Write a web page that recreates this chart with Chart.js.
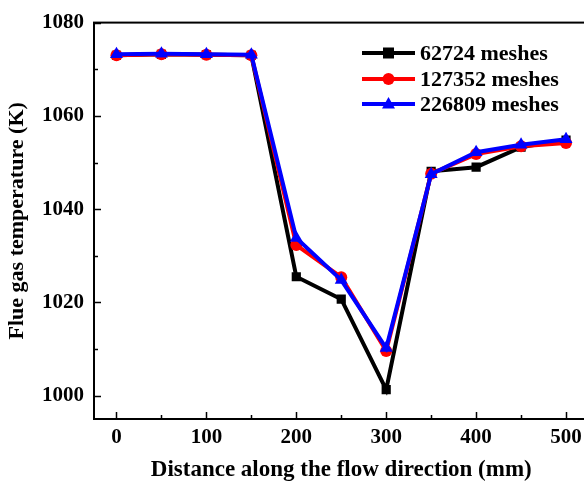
<!DOCTYPE html>
<html>
<head>
<meta charset="utf-8">
<script src="https://cdn.jsdelivr.net/npm/chart.js@4.4.1/dist/chart.umd.min.js"></script>
<style>
  html, body { margin: 0; padding: 0; background: #fff; overflow: hidden; }
  #wrap { width: 600px; height: 488px; }
</style>
</head>
<body>
<div id="wrap"><canvas id="chart" width="600" height="488"></canvas></div>
<script>
const distances = [0, 50, 100, 150, 200, 250, 300, 350, 400, 450, 500]
const mesh62724 = [1073.0, 1073.2, 1073.1, 1073.0, 1025.5, 1020.7, 1001.3, 1048.1, 1049.0, 1053.3, 1054.8]
const mesh127352 = [1073.0, 1073.2, 1073.1, 1073.0, 1032.3, 1025.4, 1009.6, 1047.6, 1051.8, 1053.5, 1054.2]
const mesh226809 = [1073.2, 1073.3, 1073.2, 1073.1, 1033.8, 1024.8, 1010.2, 1047.5, 1052.2, 1053.8, 1055.0]
const seriesLabels = ['62724 meshes', '127352 meshes', '226809 meshes']
const yTicks = [1000, 1020, 1040, 1060, 1080]
const xTicks = [0, 100, 200, 300, 400, 500]

const fuente = "'Liberation Serif', 'Times New Roman', serif"

const armarPuntos = (valores) => valores.map((v, i) => ({ x: distances[i], y: v }))

const estilos = [
    { color: '#000000', punto: 'rect', radio: 6.5, orden: 3 },
    { color: '#ff0000', punto: 'circle', radio: 6, orden: 2 },
    { color: '#0000ff', punto: 'triangle', radio: 7.5, orden: 1 }
]

const datasets = [mesh62724, mesh127352, mesh226809].map((valores, i) => ({
    label: seriesLabels[i],
    data: armarPuntos(valores),
    order: estilos[i].orden,
    borderColor: estilos[i].color,
    backgroundColor: estilos[i].color,
    borderWidth: 4,
    pointStyle: estilos[i].punto,
    pointRadius: estilos[i].radio,
    pointBorderWidth: 0,
    tension: 0
}))

// ticks hacia adentro, mayores y menores
const ticksAdentro = {
    id: 'ticksAdentro',
    afterDraw(chart) {
        const ctx = chart.ctx
        const area = chart.chartArea
        const x = chart.scales.x
        const y = chart.scales.y
        ctx.save()
        ctx.strokeStyle = '#000'
        ctx.lineWidth = 1.5
        ctx.beginPath()
        for (let v = 0; v <= 500; v += 50) {
            const px = Math.round(x.getPixelForValue(v)) + 0.5
            const largo = v % 100 === 0 ? 7 : 4
            ctx.moveTo(px, area.bottom)
            ctx.lineTo(px, area.bottom - largo)
        }
        for (let v = 1000; v <= 1080; v += 10) {
            const py = Math.round(y.getPixelForValue(v)) + 0.5
            const largo = v % 20 === 0 ? 7 : 4
            ctx.moveTo(area.left, py)
            ctx.lineTo(area.left + largo, py)
        }
        ctx.stroke()
        ctx.lineWidth = 2
        ctx.strokeRect(area.left, area.top, area.right - area.left, area.bottom - area.top)
        ctx.restore()
    }
}

// leyenda con linea y marcador
const leyenda = {
    id: 'leyenda',
    afterDraw(chart) {
        const ctx = chart.ctx
        const filas = [53, 79, 104]
        ctx.save()
        chart.data.datasets.forEach((ds, i) => {
            const yy = filas[i]
            ctx.strokeStyle = ds.borderColor
            ctx.lineWidth = 4
            ctx.beginPath()
            ctx.moveTo(362, yy)
            ctx.lineTo(415, yy)
            ctx.stroke()
            ctx.fillStyle = ds.borderColor
            const cx = 388.5
            if (ds.pointStyle === 'rect') {
                ctx.fillRect(cx - 5.5, yy - 5.5, 11, 11)
            } else if (ds.pointStyle === 'circle') {
                ctx.beginPath()
                ctx.arc(cx, yy, 6, 0, Math.PI * 2)
                ctx.fill()
            } else {
                ctx.beginPath()
                ctx.moveTo(cx, yy - 7)
                ctx.lineTo(cx + 6.5, yy + 4.5)
                ctx.lineTo(cx - 6.5, yy + 4.5)
                ctx.closePath()
                ctx.fill()
            }
            ctx.fillStyle = '#000'
            ctx.font = 'bold 22px ' + fuente
            ctx.textBaseline = 'middle'
            ctx.fillText(ds.label, 420, yy + 1)
        })
        ctx.restore()
    }
}

new Chart(document.getElementById('chart'), {
    type: 'line',
    data: { datasets: datasets },
    plugins: [ticksAdentro, leyenda],
    options: {
        responsive: false,
        animation: false,
        layout: { padding: { left: 0, top: 21, right: 11.5, bottom: 0 } },
        plugins: { legend: { display: false }, tooltip: { enabled: false } },
        scales: {
            x: {
                type: 'linear',
                min: -25,
                max: 525,
                afterFit: (s) => { s.height = 69 },
                afterBuildTicks: (s) => { s.ticks = xTicks.map(v => ({ value: v })) },
                grid: { display: false, drawTicks: false },
                border: { display: false },
                ticks: {
                    color: '#000', padding: 6,
                    callback: (v) => String(v),
                    font: { family: fuente, size: 21, weight: 'bold' }
                },
                title: {
                    display: true,
                    text: 'Distance along the flow direction (mm)',
                    color: '#000',
                    padding: { top: 7 },
                    font: { family: fuente, size: 23, weight: 'bold' }
                }
            },
            y: {
                min: 995,
                max: 1080,
                afterFit: (s) => { s.width = 94 },
                afterBuildTicks: (s) => { s.ticks = yTicks.map(v => ({ value: v })) },
                grid: { display: false, drawTicks: false },
                border: { display: false },
                ticks: {
                    color: '#000', padding: 10,
                    callback: (v) => String(v),
                    font: { family: fuente, size: 21, weight: 'bold' }
                },
                title: {
                    display: true,
                    text: 'Flue gas temperature (K)',
                    color: '#000',
                    padding: { bottom: 6 },
                    font: { family: fuente, size: 22, weight: 'bold' }
                }
            }
        }
    }
})
</script>
</body>
</html>
